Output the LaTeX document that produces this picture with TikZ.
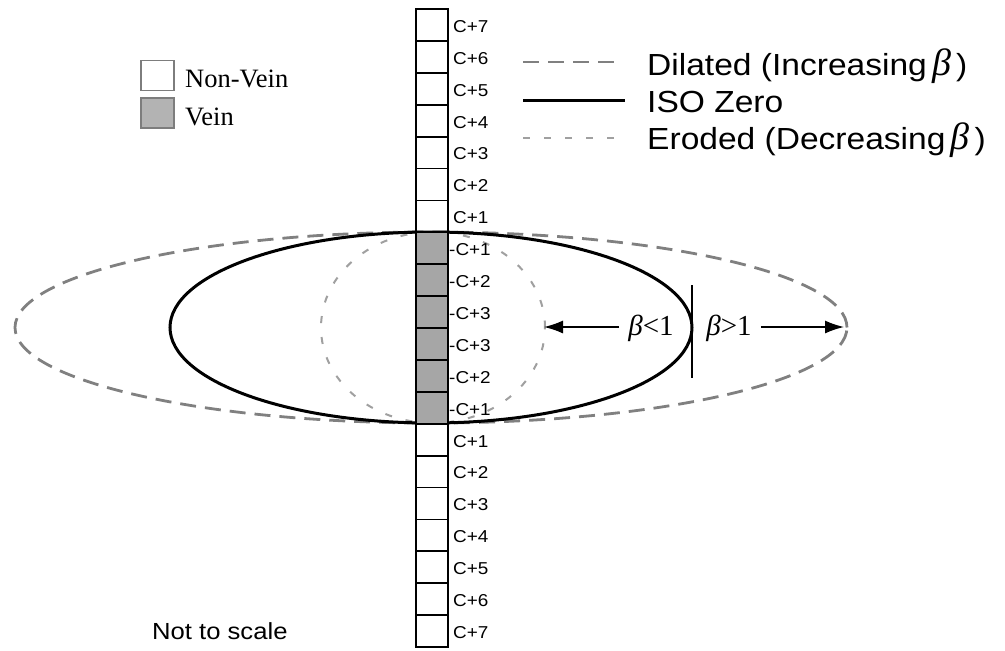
\documentclass[tikz,border=0pt]{standalone}
\usepackage{fontspec}
\setmainfont{Liberation Serif}
\newfontfamily\sansfont[FakeStretch=1.1]{Liberation Sans}
\usetikzlibrary{arrows.meta}
\definecolor{veingrey}{RGB}{166,166,166}
\definecolor{dilgrey}{RGB}{128,128,128}
\definecolor{erogrey}{RGB}{160,160,160}
\definecolor{keyedge}{RGB}{125,125,125}
\begin{document}
\begin{tikzpicture}[x=1pt,y=-1pt,
  cellbox/.style={draw=black,line width=1.8pt,minimum width=32pt,minimum height=31.9pt,
    inner sep=0pt,outer sep=0pt},
  veincell/.style={cellbox,fill=veingrey},
  celltext/.style={font=\sansfont\fontsize{17.2}{17}\selectfont,anchor=west,inner sep=0pt},
  keybox/.style={draw=keyedge,line width=1.3pt,minimum width=33pt,minimum height=30pt,inner sep=0pt},
  keytext/.style={font=\fontsize{26.5}{28}\selectfont,anchor=base west,inner sep=0pt},
  legtext/.style={font=\sansfont\fontsize{30.5}{32}\selectfont,anchor=base west,inner sep=0pt},
  betalabel/.style={font=\fontsize{29}{30}\selectfont,anchor=base,inner ysep=0pt,inner xsep=9pt},
  dilated/.style={draw=dilgrey,line width=2.8pt,dash pattern=on 16pt off 9pt},
  eroded/.style={draw=erogrey,line width=2pt,dash pattern=on 7pt off 14pt},
  isozero/.style={draw=black,line width=3pt},
  pointer/.style={draw=black,line width=1.4pt,-{Latex[length=19pt,width=13pt]}}
]
\newcommand{\bigbeta}{{\rmfamily\fontsize{38}{38}\selectfont\itshape β}}
\useasboundingbox (0,0) rectangle (1005,651);

% contour lines around the vessel
\draw[dilated] (431,327.5) ellipse [x radius=416pt, y radius=95.5pt];
\draw[eroded] (433,327.5) ellipse [x radius=112pt, y radius=95.5pt];
\draw[isozero] (431,327.5) ellipse [x radius=261pt, y radius=95.5pt];

% column of voxels
\foreach \i/\t in {1/C+7,2/C+6,3/C+5,4/C+4,5/C+3,6/C+2,7/C+1,
                   14/C+1,15/C+2,16/C+3,17/C+4,18/C+5,19/C+6,20/C+7}{
  \node[cellbox] (cell\i) at (432,{9+31.9*\i-15.95}) {};
  \node[celltext] (lab\i) at ([xshift=5pt,yshift=-1.5pt]cell\i.east) {\t};
}
\foreach \i/\t in {8/-C+1,9/-C+2,10/-C+3,11/-C+3,12/-C+2,13/-C+1}{
  \node[veincell] (cell\i) at (432,{9+31.9*\i-15.95}) {};
  \node[celltext] (lab\i) at ([xshift=1pt,yshift=-1.5pt]cell\i.east) {\t};
}

% key for voxel classes
\node[keybox] (nvbox) at (157.5,75.5) {};
\node[keybox,fill=veingrey!85!white] (vbox) at (157.5,113) {};
\node[keytext] (nvtext) at (185,87) {Non-Vein};
\node[keytext] (vtext) at (185,125) {Vein};

% key for contour lines
\coordinate (dila) at (523,62);  \coordinate (dilb) at (618,62);
\coordinate (isoa) at (523,100); \coordinate (isob) at (625,100);
\coordinate (eroa) at (523,138); \coordinate (erob) at (625,138);
\draw[dilated] (dila) -- (dilb);
\draw[isozero] (isoa) -- (isob);
\draw[eroded] (eroa) -- (erob);
\node[legtext] (diltext) at (647,75) {Dilated (Increasing\,\bigbeta\,)};
\node[legtext] (isotext) at (647,112) {ISO Zero};
\node[legtext] (erotext) at (647,149) {Eroded (Decreasing\,\bigbeta\,)};

% threshold indicator
\coordinate (divtop) at (692,285);
\coordinate (divbot) at (692,378);
\draw[black,line width=1.6pt] (divtop) -- (divbot);
\node[betalabel] (less) at (651,335) {\textit{β}<1};
\node[betalabel] (more) at (729,335) {\textit{β}>1};
\coordinate (lesstip) at (544,327);
\coordinate (moretip) at (844,327);
\draw[pointer] (less.west |- lesstip) -- (lesstip);
\draw[pointer] (more.east |- moretip) -- (moretip);

\node[font=\sansfont\fontsize{23.3}{24}\selectfont,anchor=base west,inner sep=0pt]
  (note) at (152,639) {Not to scale};
\end{tikzpicture}
\end{document}
